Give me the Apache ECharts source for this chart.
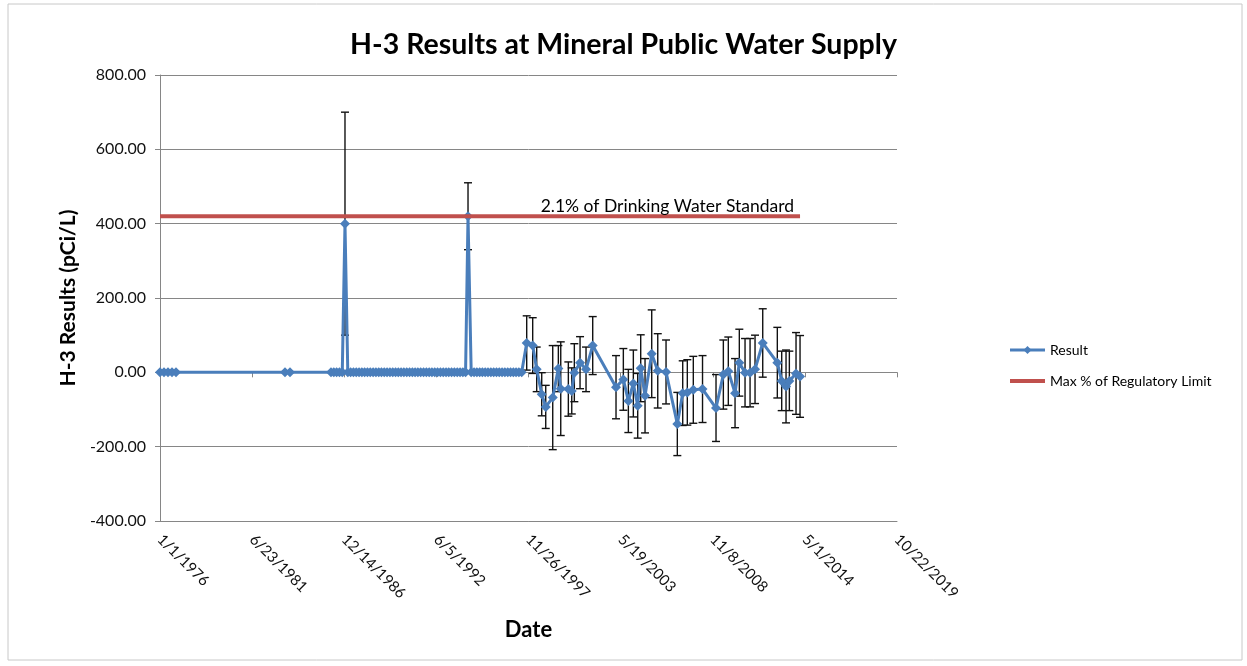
<!DOCTYPE html>
<html>
<head>
<meta charset="utf-8">
<script src="https://cdn.jsdelivr.net/npm/echarts@6/dist/echarts.min.js"></script>
<style>
html, body { margin: 0; padding: 0; background: #fff; }
#chart { width: 1247px; height: 666px; }
</style>
</head>
<body>
<div id="chart"></div>
<script>
// sample dates
var sampleDates = [
    '1976-01-01', '1976-03-28', '1976-06-23', '1976-09-17', '1976-12-13',
    '1983-06-07', '1983-09-23',
    '1986-03-01', '1986-05-01', '1986-07-01', '1986-09-01', '1986-11-01', '1986-12-30',
    '1987-03-01', '1987-05-01', '1987-07-01', '1987-09-01', '1987-11-01',
    '1988-01-01', '1988-03-01', '1988-05-01', '1988-07-01', '1988-09-01', '1988-11-01',
    '1989-01-01', '1989-03-01', '1989-05-01', '1989-07-01', '1989-09-01', '1989-11-01',
    '1990-01-01', '1990-03-01', '1990-05-01', '1990-07-01', '1990-09-01', '1990-11-01',
    '1991-01-01', '1991-03-01', '1991-05-01', '1991-07-01', '1991-09-01', '1991-11-01',
    '1992-01-01', '1992-03-01', '1992-05-01', '1992-07-01', '1992-09-01', '1992-11-01',
    '1993-01-01', '1993-03-01', '1993-05-01', '1993-07-01', '1993-09-01', '1993-11-01',
    '1994-01-01', '1994-03-01', '1994-04-23',
    '1994-07-01', '1994-09-01', '1994-11-01',
    '1995-01-01', '1995-03-01', '1995-05-01', '1995-07-01', '1995-09-01', '1995-11-01',
    '1996-01-01', '1996-03-01', '1996-05-01', '1996-07-01', '1996-09-01', '1996-11-01',
    '1997-01-01', '1997-03-01', '1997-05-01', '1997-07-01',
    '1997-10-18', '1998-02-25', '1998-05-23', '1998-09-09', '1998-12-05', '1999-05-06',
    '1999-09-05', '1999-10-27', '2000-04-09', '2000-06-22', '2000-08-17', '2000-12-19',
    '2001-04-28', '2001-09-20', '2003-02-08', '2003-07-17', '2003-11-03', '2004-02-19',
    '2004-05-24', '2004-07-28', '2004-10-30', '2005-03-24', '2005-08-02', '2006-01-29',
    '2006-10-01', '2007-01-26', '2007-05-06', '2007-09-13', '2008-03-31', '2009-01-18',
    '2009-06-26', '2009-10-12', '2010-03-07', '2010-06-08', '2010-10-10', '2011-01-27',
    '2011-05-15', '2011-10-29', '2012-09-10', '2012-12-14', '2013-03-18', '2013-05-29',
    '2013-10-21', '2014-01-16'
];

// H-3 result, pCi/L
var results = [
    0, 0, 0, 0, 0,
    0, 0,
    0, 0, 0, 0, 0, 400,
    0, 0, 0, 0, 0,
    0, 0, 0, 0, 0, 0,
    0, 0, 0, 0, 0, 0,
    0, 0, 0, 0, 0, 0,
    0, 0, 0, 0, 0, 0,
    0, 0, 0, 0, 0, 0,
    0, 0, 0, 0, 0, 0,
    0, 0, 420,
    0, 0, 0,
    0, 0, 0, 0, 0, 0,
    0, 0, 0, 0, 0, 0,
    0, 0, 0, 0,
    79, 72, 8, -59, -93, -68,
    10, -44, -45, -50, -1, 26,
    8, 72, -40, -19, -77, -30,
    -90, 11, -63, 50, 4, 1,
    -139, -56, -54, -47, -45, -96,
    -6, 3, -56, 26, -1, -1,
    8, 79, 26, -23, -38, -23,
    -3, -11
];

// +/- counting uncertainty (null = no bar)
var uncertainties = [
    null, null, null, null, null,
    null, null,
    null, null, null, null, null, 300,
    null, null, null, null, null,
    null, null, null, null, null, null,
    null, null, null, null, null, null,
    null, null, null, null, null, null,
    null, null, null, null, null, null,
    null, null, null, null, null, null,
    null, null, null, null, null, null,
    null, null, 90,
    null, null, null,
    null, null, null, null, null, null,
    null, null, null, null, null, null,
    null, null, null, null,
    73, 75, 60, 58, 58, 140,
    62, 126, 73, 62, 78, 70,
    60, 78, 85, 83, 85, 90,
    87, 90, 100, 118, 100, 86,
    85, 87, 88, 90, 90, 90,
    93, 92, 93, 90, 92, 92,
    92, 92, 95, 80, 98, 80,
    110, 110
];

var limitValue = 420;
var limitText = '2.1% of Drinking Water Standard';
var axisStartDate = '1976-01-01';

var DAY = 86400000;
var t0 = Date.parse(axisStartDate + 'T00:00:00Z');
function toDays(s) {
    return Math.round((Date.parse(s + 'T00:00:00Z') - t0) / DAY);
}
function dayLabel(v) {
    var d = new Date(t0 + v * DAY);
    return (d.getUTCMonth() + 1) + '/' + d.getUTCDate() + '/' + d.getUTCFullYear();
}

var resultData = [];
var errorData = [];
for (var i = 0; i < sampleDates.length; i++) {
    var x = toDays(sampleDates[i]);
    resultData.push([x, results[i]]);
    if (uncertainties[i] != null) {
        errorData.push([x, results[i], uncertainties[i]]);
    }
}
var lastDay = toDays(sampleDates[sampleDates.length - 1]);

var gridColor = '#868686';
var font = 'Lato';

var chart = echarts.init(document.getElementById('chart'));
chart.setOption({
    animation: false,
    textStyle: {fontFamily: font},
    title: {
        text: 'H-3 Results at Mineral Public Water Supply',
        left: 'center',
        top: 25,
        textStyle: {fontSize: 28.5, fontWeight: 'bold', color: '#000', fontFamily: font}
    },
    legend: {
        orient: 'vertical',
        left: 1003,
        top: 338,
        itemWidth: 35,
        itemHeight: 10,
        itemGap: 17,
        data: [
            {name: 'Result', lineStyle: {width: 3}},
            {name: 'Max % of Regulatory Limit', itemStyle: {opacity: 0}, lineStyle: {width: 4}}
        ],
        textStyle: {fontSize: 14, color: '#000', fontFamily: font}
    },
    graphic: [{
        type: 'rect',
        shape: {x: 8, y: 4, width: 1234, height: 656},
        style: {fill: 'none', stroke: '#c8c8c8', lineWidth: 1},
        silent: true
    }],
    grid: {left: 160, right: 350, top: 75, bottom: 145},
    xAxis: [{
        type: 'value',
        min: 0,
        max: 16000,
        interval: 2000,
        position: 'bottom',
        name: 'Date',
        nameLocation: 'middle',
        nameGap: 98,
        nameTextStyle: {fontSize: 22, fontWeight: 'bold', color: '#000', fontFamily: font},
        axisLine: {onZero: false, lineStyle: {color: gridColor}},
        axisTick: {show: false},
        splitLine: {show: false},
        axisLabel: {
            rotate: -45,
            fontSize: 15,
            color: '#111',
            margin: 16,
            formatter: dayLabel
        }
    }, {
        type: 'value',
        min: 0,
        max: 16000,
        interval: 2000,
        position: 'bottom',
        axisLine: {onZero: true, lineStyle: {color: gridColor}},
        axisTick: {show: true, length: 5, lineStyle: {color: gridColor}},
        axisLabel: {show: false},
        splitLine: {show: false}
    }],
    yAxis: {
        type: 'value',
        min: -400,
        max: 800,
        interval: 200,
        name: 'H-3 Results (pCi/L)',
        nameLocation: 'middle',
        nameGap: 76,
        nameTextStyle: {fontSize: 21, fontWeight: 'bold', color: '#000', fontFamily: font},
        axisLine: {show: true, lineStyle: {color: gridColor}},
        axisTick: {show: true, length: 5, lineStyle: {color: gridColor}},
        splitLine: {lineStyle: {color: gridColor}},
        axisLabel: {
            fontSize: 16,
            color: '#111',
            margin: 14,
            formatter: function (v) { return v.toFixed(2); }
        }
    },
    series: [
        {
            name: 'error',
            type: 'custom',
            z: 2,
            data: errorData,
            encode: {x: 0, y: 1},
            renderItem: function (params, api) {
                var x = api.value(0), v = api.value(1), e = api.value(2);
                var top = api.coord([x, v + e]);
                var bot = api.coord([x, v - e]);
                var hw = 4;
                var st = {stroke: '#111', lineWidth: 1.4};
                return {
                    type: 'group',
                    children: [
                        {type: 'line', shape: {x1: top[0], y1: top[1], x2: bot[0], y2: bot[1]}, style: st},
                        {type: 'line', shape: {x1: top[0] - hw, y1: top[1], x2: top[0] + hw, y2: top[1]}, style: st},
                        {type: 'line', shape: {x1: bot[0] - hw, y1: bot[1], x2: bot[0] + hw, y2: bot[1]}, style: st}
                    ]
                };
            }
        },
        {
            name: 'Result',
            type: 'line',
            z: 3,
            data: resultData,
            symbol: 'diamond',
            symbolSize: 10,
            color: '#4A7EBB',
            lineStyle: {width: 3, color: '#4A7EBB'},
            itemStyle: {color: '#4A7EBB'}
        },
        {
            name: 'Max % of Regulatory Limit',
            type: 'line',
            z: 4,
            data: [[0, limitValue], [lastDay, limitValue]],
            symbol: 'none',
            color: '#C0504D',
            lineStyle: {width: 4, color: '#C0504D'},
            endLabel: {
                show: true,
                formatter: limitText,
                align: 'right',
                offset: [-14, -10],
                fontSize: 17.5,
                color: '#000',
                fontFamily: font
            }
        }
    ]
});
</script>
</body>
</html>
